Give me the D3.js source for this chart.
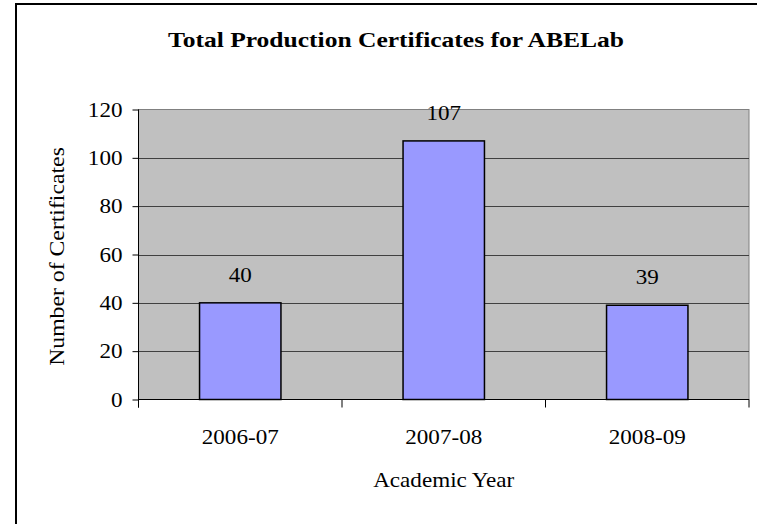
<!DOCTYPE html>
<html><head><meta charset="utf-8">
<script src="https://cdn.jsdelivr.net/npm/d3@7"></script>
<style>body{margin:0;background:#fff}svg{display:block}text{font-family:"Liberation Serif","Times New Roman",serif;fill:#000}</style>
</head><body><svg id="c" width="757" height="524"></svg>
<script>
const categories = ["2006-07", "2007-08", "2008-09"];
const values = [40, 107, 39];
const yTicks = [0, 20, 40, 60, 80, 100, 120];
const title = "Total Production Certificates for ABELab";
const xTitle = "Academic Year";
const yTitle = "Number of Certificates";

const svg = d3.select("#c");
const L = 138.5, T = 109.5, R = 749, B = 399.5;

function stretch(sel, f) {
  sel.each(function () {
    const w = this.getComputedTextLength();
    d3.select(this).attr("textLength", w * f).attr("lengthAdjust", "spacingAndGlyphs");
  });
}

svg.append("rect").attr("x", 16).attr("y", 4).attr("width", 800).attr("height", 600)
  .attr("fill", "#fff").attr("stroke", "#000").attr("stroke-width", 2);

const x = d3.scaleBand().domain(categories).range([L, R]).paddingInner(0.6).paddingOuter(0.3);
const xb = d3.scaleBand().domain(categories).range([L, R]);
const y = d3.scaleLinear().domain([0, 120]).range([B, T]);

svg.append("rect").attr("x", L).attr("y", T).attr("width", R - L).attr("height", B - T)
  .attr("fill", "#c0c0c0").attr("stroke", "#808080").attr("stroke-width", 1);

svg.append("g").selectAll("line").data(yTicks.filter(d => d > 0 && d < 120)).join("line")
  .attr("x1", L).attr("x2", R).attr("y1", d => Math.round(y(d)) + 0.5).attr("y2", d => Math.round(y(d)) + 0.5)
  .attr("stroke", "#404040").attr("stroke-width", 1);

svg.append("g").selectAll("rect").data(values).join("rect")
  .attr("x", (d, i) => x(categories[i])).attr("width", x.bandwidth())
  .attr("y", d => y(d)).attr("height", d => B - y(d))
  .attr("fill", "#9999ff").attr("stroke", "#000").attr("stroke-width", 1.5);

svg.append("g").selectAll("text").data(values).join("text")
  .attr("x", (d, i) => x(categories[i]) + x.bandwidth() / 2).attr("y", d => y(d) - 21)
  .attr("text-anchor", "middle").attr("font-size", 21).text(d => d)
  .call(stretch, 1.1);

// y axis
const ya = svg.append("g").attr("transform", `translate(${L},0)`)
  .call(d3.axisLeft(y).tickValues(yTicks).tickSize(6).tickPadding(10));
ya.select(".domain").attr("stroke", "#000").attr("d", `M0,${T}V${B + 8}`);
ya.selectAll(".tick line").attr("stroke", "#000");
ya.selectAll(".tick text").attr("font-size", 21).attr("font-family", "Liberation Serif").attr("fill", "#000")
  .call(stretch, 1.1);

// x axis
const bounds = [0, 1, 2, 3].map(i => L + i * xb.step());
svg.append("line").attr("x1", L).attr("x2", R).attr("y1", B).attr("y2", B).attr("stroke", "#000");
svg.append("g").selectAll("line").data(bounds).join("line")
  .attr("x1", d => d).attr("x2", d => d).attr("y1", B).attr("y2", B + 8).attr("stroke", "#000");
svg.append("g").selectAll("text").data(categories).join("text")
  .attr("x", d => xb(d) + xb.bandwidth() / 2).attr("y", 444)
  .attr("text-anchor", "middle").attr("font-size", 21).text(d => d)
  .call(stretch, 1.1);

svg.append("text").attr("x", (L + R) / 2).attr("y", 487).attr("text-anchor", "middle")
  .attr("font-size", 21).text(xTitle).call(stretch, 1.1);
svg.append("text").attr("transform", `translate(64,${(T + B) / 2 + 2}) rotate(-90)`)
  .attr("text-anchor", "middle").attr("font-size", 21).text(yTitle).call(stretch, 1.13);
svg.append("text").attr("x", 396).attr("y", 47).attr("text-anchor", "middle")
  .attr("font-size", 22).attr("font-weight", "bold").text(title).call(stretch, 1.16);
</script></body></html>
